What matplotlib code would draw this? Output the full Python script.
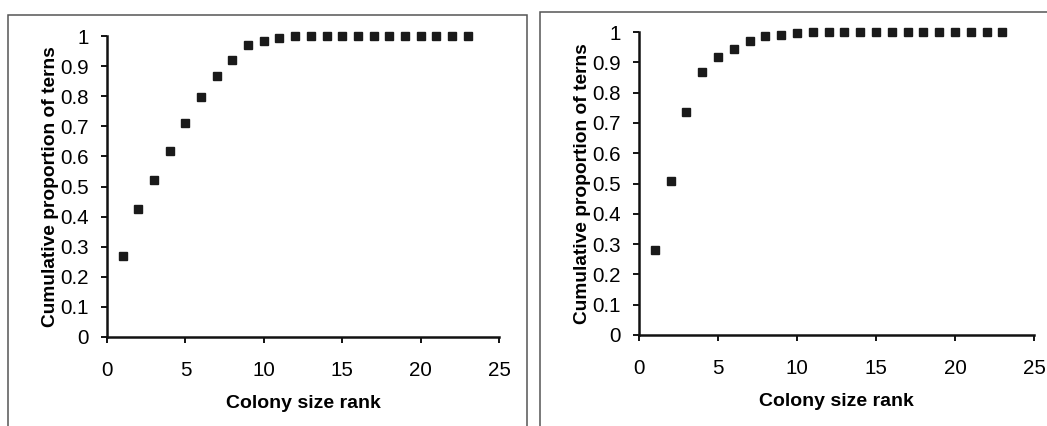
import matplotlib.pyplot as plt
from matplotlib.patches import Rectangle

plt.rcParams['font.family'] = ['Liberation Sans', 'DejaVu Sans']

rank = list(range(1, 24))
left_prop = [0.27, 0.425, 0.522, 0.619, 0.71, 0.798, 0.866, 0.92, 0.969, 0.984, 0.995,
             1, 1, 1, 1, 1, 1, 1, 1, 1, 1, 1, 1]
right_prop = [0.281, 0.509, 0.735, 0.867, 0.916, 0.945, 0.971, 0.986, 0.991, 0.997, 0.999,
              1, 1, 1, 1, 1, 1, 1, 1, 1, 1, 1, 1]

xticks = [0, 5, 10, 15, 20, 25]
yticks = [0, 0.1, 0.2, 0.3, 0.4, 0.5, 0.6, 0.7, 0.8, 0.9, 1]
ylabels = ['0', '0.1', '0.2', '0.3', '0.4', '0.5', '0.6', '0.7', '0.8', '0.9', '1']

W, H = 1047, 426
fig = plt.figure(figsize=(W / 100, H / 100), dpi=100)

# outer frames around each panel
fig.add_artist(Rectangle((8 / W, -0.05), (527 - 8) / W, 1.05 - 15 / H,
                         transform=fig.transFigure, fill=False, ec='#555555', lw=1.1))
fig.add_artist(Rectangle((540 / W, -0.05), 0.6, 1.05 - 12 / H,
                         transform=fig.transFigure, fill=False, ec='#555555', lw=1.1))

panels = [
    ([107 / W, 1 - 337 / H, (499 - 107) / W, (337 - 36) / H], left_prop),
    ([639 / W, 1 - 335 / H, (1034 - 639) / W, (335 - 32) / H], right_prop),
]

for rect, prop in panels:
    ax = fig.add_axes(rect)
    ax.plot(rank, prop, ls='none', marker='s', ms=5.8, color='#1a1a1a', clip_on=False)
    ax.set_xlim(0, 25)
    ax.set_ylim(0, 1)
    ax.set_xticks(xticks)
    ax.set_yticks(yticks)
    ax.set_yticklabels(ylabels)
    for s in ['top', 'right']:
        ax.spines[s].set_visible(False)
    for s in ['left', 'bottom']:
        ax.spines[s].set_linewidth(1.8)
        ax.spines[s].set_color('#111111')
    ax.tick_params(axis='y', length=4, width=1.3, pad=9, labelsize=14.8)
    ax.tick_params(axis='x', length=4, width=1.3, pad=13, labelsize=14.8)
    ax.set_xlabel('Colony size rank', fontsize=14, fontweight='bold', labelpad=11)
    ax.set_ylabel('Cumulative proportion of terns', fontsize=13.8, fontweight='bold',
                  labelpad=1)

fig.savefig('out.png', dpi=100)
